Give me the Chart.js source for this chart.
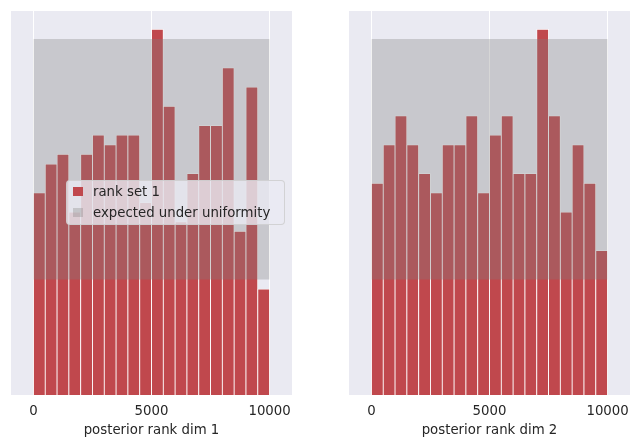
<!DOCTYPE html>
<html>
<head>
<meta charset="utf-8">
<script src="https://cdn.jsdelivr.net/npm/chart.js@4"></script>
<style>
  body { margin: 0; background: #fff; width: 639px; height: 448px; position: relative; overflow: hidden;
         font-family: "DejaVu Sans", sans-serif; color: #262626; }
  canvas { position: absolute; top: 0; }
  #legend { position: absolute; left: 66px; top: 180px; width: 217px; height: 43px;
            background: rgba(234,234,242,0.8); border: 1px solid rgba(204,204,204,0.8); border-radius: 4px;
            font-size: 13.3px; }
  .row { position: absolute; left: 6px; height: 16px; line-height: 16px; white-space: nowrap; }
  .sw { display: inline-block; width: 10px; height: 9px; vertical-align: middle; margin-right: 10px; margin-top: -2px; }
</style>
</head>
<body>
<canvas id="dim1" width="320" height="448" style="left:0px"></canvas>
<canvas id="dim2" width="319" height="448" style="left:320px"></canvas>
<div id="legend"></div>
<script>
// 20 bins of width 500 over 0..10000
const binCenters = [250, 750, 1250, 1750, 2250, 2750, 3250, 3750, 4250, 4750,
                    5250, 5750, 6250, 6750, 7250, 7750, 8250, 8750, 9250, 9750];
const countsDim1 = [21, 24, 25, 19, 25, 27, 26, 27, 27, 20, 38, 30, 18, 23, 28, 28, 34, 17, 32, 11];
const countsDim2 = [22, 26, 29, 26, 23, 21, 26, 26, 29, 21, 27, 29, 23, 23, 38, 29, 19, 26, 22, 15];
// expected band under uniformity
const bandX = [0, 10000];
const bandLow = 12;
const bandHigh = 37;
const xTicks = [0, 5000, 10000];
const seriesLabels = ['rank set 1', 'expected under uniformity'];
const xTitles = ['posterior rank dim 1', 'posterior rank dim 2'];

const barColor = 'rgb(192,72,77)';
const bandColor = 'rgba(128,128,128,0.32)';

// axes background like seaborn darkgrid
const bgPlugin = {
  id: 'bg',
  beforeDraw(chart) {
    const a = chart.chartArea, c = chart.ctx;
    c.save();
    c.fillStyle = '#EAEAF2';
    c.fillRect(a.left, a.top, a.right - a.left, a.bottom - a.top);
    c.restore();
  }
};

function makeChart(id, counts, title, pad) {
  new Chart(document.getElementById(id), {
    type: 'bar',
    data: {
      datasets: [
        {
          type: 'line',
          label: seriesLabels[1],
          data: bandX.map(x => ({ x: x, y: bandHigh })),
          fill: { value: bandLow },
          backgroundColor: bandColor,
          borderWidth: 0,
          pointRadius: 0,
          order: 0
        },
        {
          label: seriesLabels[0],
          data: binCenters.map((x, i) => ({ x: x, y: counts[i] })),
          backgroundColor: barColor,
          borderColor: '#ffffff',
          borderWidth: 0.8,
          barPercentage: 1,
          categoryPercentage: 1,
          order: 1
        }
      ]
    },
    options: {
      responsive: false,
      animation: false,
      layout: { padding: pad },
      plugins: { legend: { display: false }, tooltip: { enabled: false } },
      scales: {
        x: {
          type: 'linear',
          offset: false,
          min: -950,
          max: 10950,
          afterBuildTicks: axis => { axis.ticks = xTicks.map(v => ({ value: v })); },
          afterFit: axis => { axis.height = 53; },
          grid: { color: '#ffffff', lineWidth: 1, drawTicks: false, offset: false },
          border: { display: false },
          ticks: { padding: 9, color: '#262626', font: { family: 'DejaVu Sans', size: 13.3 },
                   callback: v => String(v), maxRotation: 0 },
          title: { display: true, text: title, color: '#262626',
                   font: { family: 'DejaVu Sans', size: 13.3 }, padding: { top: 2, bottom: 9 } }
        },
        y: {
          display: false,
          min: 0,
          max: 39.9
        }
      }
    },
    plugins: [bgPlugin]
  });
}

makeChart('dim1', countsDim1, xTitles[0], { left: 11, right: 28, top: 11, bottom: 0 });
makeChart('dim2', countsDim2, xTitles[1], { left: 29, right: 9, top: 11, bottom: 0 });

// legend overlay on the first panel
const legend = document.getElementById('legend');
[barColor, bandColor].forEach((col, i) => {
  const row = document.createElement('div');
  row.className = 'row';
  row.style.top = (i === 0 ? 3 : 24) + 'px';
  row.innerHTML = '<span class="sw" style="background:' + col + '"></span>' + seriesLabels[i];
  legend.appendChild(row);
});
</script>
</body>
</html>
